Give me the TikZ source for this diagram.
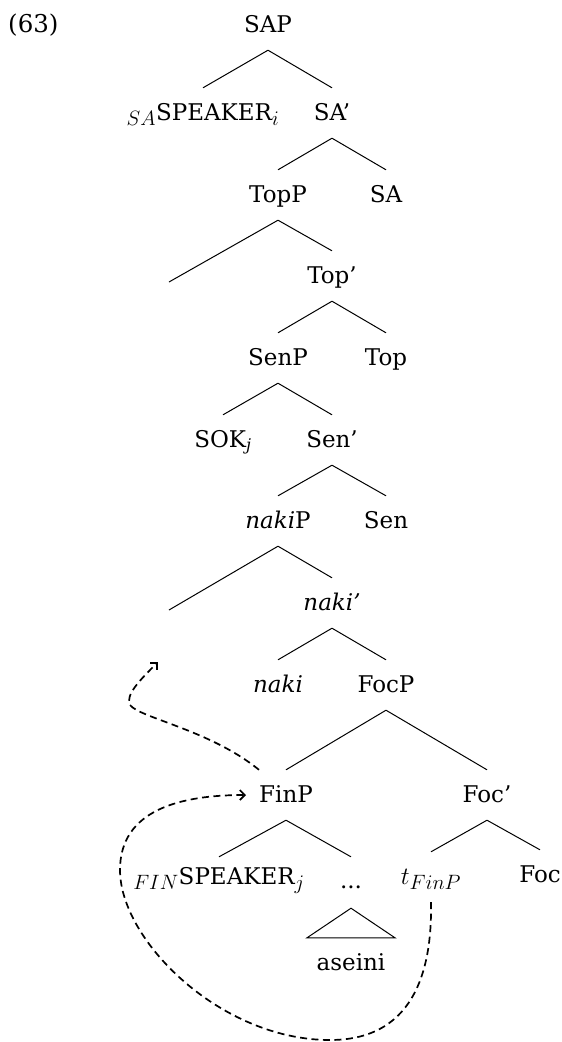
\documentclass[tikz,border=0pt]{standalone}
\usepackage{fontspec}
\setmainfont{DejaVu Serif}
\usetikzlibrary{arrows.meta,calc}
\newcommand{\mthx}[1]{{\fontsize{32}{38}\selectfont$#1$}}
\begin{document}
\begin{tikzpicture}[x=1pt,y=-1pt,
  lab/.style={anchor=base, inner sep=0pt, text height=32pt, text depth=18pt, font=\fontsize{23}{28}\selectfont},
  br/.style={line width=1pt},
  mv/.style={line width=1.7pt, dash pattern=on 7pt off 4.5pt, -{Straight Barb[length=5pt,width=10pt]}}]
\useasboundingbox (0,0) rectangle (562,1042);
\node[anchor=base west, inner sep=0pt, font=\fontsize{24.5}{28}\selectfont] (ex) at (8,32) {(63)};
\node[lab] (SAP) at (268,32) {SAP};
\node[lab] (SAs) at (203,120) {\mthx{_{SA}}SPEAKER\mthx{_i}};
\node[lab] (SAb) at (332,120) {SA'};
\node[lab] (TopP) at (278,202) {TopP};
\node[lab] (SA) at (386,202) {SA};
\coordinate (e1) at (169,282);
\node[lab] (Topb) at (332,283) {Top'};
\node[lab] (SenP) at (278,365) {SenP};
\node[lab] (Top) at (386,365) {Top};
\node[lab] (SOK) at (223,447) {SOK\textsubscript{\textit{j}}};
\node[lab] (Senb) at (332,447) {Sen'};
\node[lab] (nakiP) at (278,528) {\textit{naki}P};
\node[lab] (Sen) at (386,528) {Sen};
\coordinate (e2) at (169,610);
\node[lab] (nakib) at (332,610) {\textit{naki'}};
\node[lab] (naki) at (278,692) {\textit{naki}};
\node[lab] (FocP) at (386,692) {FocP};
\node[lab] (FinP) at (286,802) {FinP};
\node[lab] (Focb) at (487,802) {Foc'};
\node[lab, text height=27pt] (FINs) at (219,884) {\mthx{_{FIN}}SPEAKER\mthx{_j}};
\node[lab, text height=31pt, text depth=20pt] (dots) at (351,888) {...};
\node[lab] (tF) at (431,884) {\mthx{t_{FinP}}};
\node[lab] (Foc) at (540,882) {Foc};
\node[lab] (ase) at (351,970) {aseini};
\coordinate (land) at (158,662);

\draw[br] (SAP.south) -- (SAs.north) (SAP.south) -- (SAb.north);
\draw[br] (SAb.south) -- (TopP.north) (SAb.south) -- (SA.north);
\draw[br] (TopP.south) -- (e1) (TopP.south) -- (Topb.north);
\draw[br] (Topb.south) -- (SenP.north) (Topb.south) -- (Top.north);
\draw[br] (SenP.south) -- (SOK.north) (SenP.south) -- (Senb.north);
\draw[br] (Senb.south) -- (nakiP.north) (Senb.south) -- (Sen.north);
\draw[br] (nakiP.south) -- (e2) (nakiP.south) -- (nakib.north);
\draw[br] (nakib.south) -- (naki.north) (nakib.south) -- (FocP.north);
\draw[br] (FocP.south) -- (FinP.north) (FocP.south) -- (Focb.north);
\draw[br] (FinP.south) -- (FINs.north) (FinP.south) -- (dots.north);
\draw[br] (Focb.south) -- (tF.north) (Focb.south) -- (Foc.north);
\draw[br] (dots.south) -- ($(ase.north)+(-44,0)$) -- ($(ase.north)+(44,0)$) -- cycle;

\draw[mv] (FinP.north west) .. controls (210,730) and (140,718) .. (130,705) .. controls (125,695) and (140,680) .. (land);
\draw[mv, shorten >=13pt] (tF.south) .. controls (432,960) and (420,1040) .. (330,1040) .. controls (220,1040) and (120,940) .. (120,870) .. controls (120,810) and (180,795) .. (FinP.west);
\end{tikzpicture}
\end{document}
